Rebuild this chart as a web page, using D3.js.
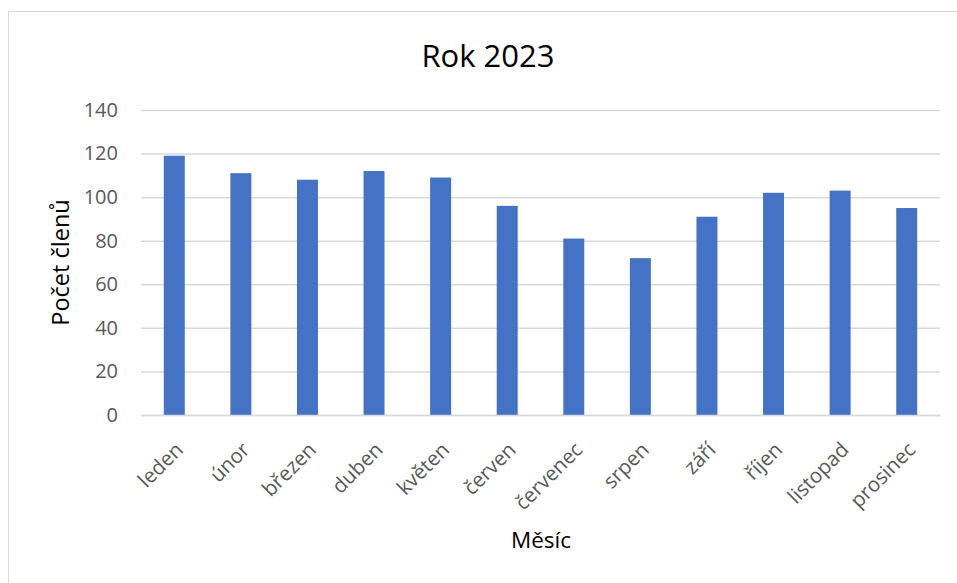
<!DOCTYPE html>
<html><head><meta charset="utf-8">
<script src="https://cdn.jsdelivr.net/npm/d3@7"></script>
<style>body{margin:0;background:#fff}svg{display:block}</style>
</head><body>
<svg id="c" width="957" height="583"></svg>
<script>
const months = ["leden","únor","březen","duben","květen","červen","červenec","srpen","září","říjen","listopad","prosinec"];
const members = [119,111,108,112,109,96,81,72,91,102,103,95];
const yTicks = [0,20,40,60,80,100,120,140];
const title = "Rok 2023";
const xTitle = "Měsíc";
const yTitle = "Počet členů";

const svg = d3.select("#c");
const font = "'Open Sans', sans-serif";
const m = {left:141, right:17, top:110, bottom:168};
const W = 957, H = 583;

svg.append("rect").attr("x",8.5).attr("y",11.5).attr("width",W).attr("height",H)
  .attr("fill","#fff").attr("stroke","#d9d9d9").attr("stroke-width",1);

const x = d3.scaleBand().domain(months).range([m.left, W-m.right]).paddingInner(0.685).paddingOuter(0.3425);
const y = d3.scaleLinear().domain([0,140]).range([H-m.bottom, m.top]);

const gy = svg.append("g").attr("transform",`translate(${m.left},0)`)
  .call(d3.axisLeft(y).tickValues(yTicks).tickSize(-(W-m.left-m.right)).tickPadding(23));
gy.select(".domain").remove();
gy.selectAll(".tick line").attr("stroke","#d9d9d9").attr("stroke-width",1.5);
gy.selectAll(".tick text").attr("fill","#595959").style("font-family",font).style("font-size","20px");

svg.append("g").selectAll("rect").data(months).join("rect")
  .attr("x",d=>x(d)).attr("width",x.bandwidth())
  .attr("y",(d,i)=>y(members[i])).attr("height",(d,i)=>y(0)-y(members[i]))
  .attr("fill","#4472c4");

const gx = svg.append("g").attr("transform",`translate(0,${y(0)})`)
  .call(d3.axisBottom(x).tickSize(0).tickPadding(0));
gx.select(".domain").attr("stroke","#d9d9d9").attr("stroke-width",1.5);
gx.selectAll(".tick text").attr("fill","#595959").style("font-family",font).style("font-size","20.5px")
  .attr("text-anchor","end").attr("dy",null).attr("y",null)
  .attr("transform","translate(10,36) rotate(-45)");

svg.append("text").attr("x",488).attr("y",67).attr("text-anchor","middle")
  .style("font-family",font).style("font-size","31px").attr("fill","#000").text(title);
svg.append("text").attr("x",541).attr("y",548).attr("text-anchor","middle")
  .style("font-family",font).style("font-size","22.5px").attr("fill","#000").text(xTitle);
svg.append("text").attr("transform",`translate(69,${(y(0)+y(140))/2}) rotate(-90)`).attr("text-anchor","middle")
  .style("font-family",font).style("font-size","23.5px").attr("fill","#000").text(yTitle);
</script>
</body></html>
